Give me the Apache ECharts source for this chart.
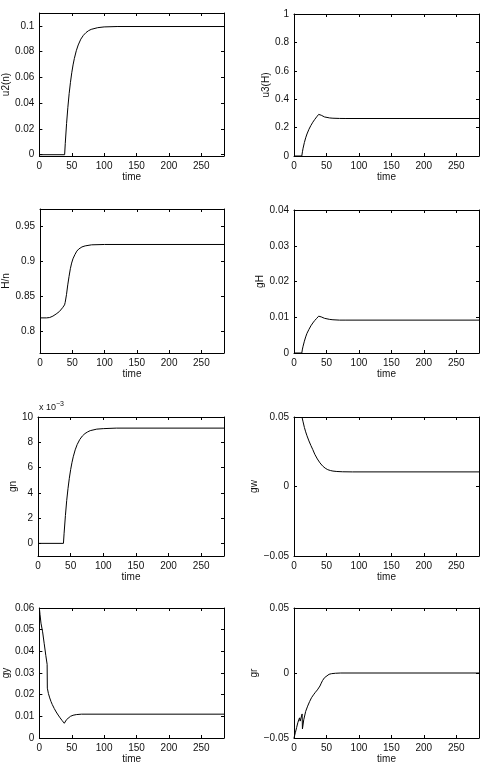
<!DOCTYPE html>
<html>
<head>
<meta charset="utf-8">
<script src="https://cdn.jsdelivr.net/npm/echarts@6/dist/echarts.min.js"></script>
<style>
html,body{margin:0;padding:0;background:#fff;}
#c{width:484px;height:765px;}
</style>
</head>
<body>
<div id="c"></div>
<script>
// ---------- data ----------
var xTicks = [0, 50, 100, 150, 200, 250];
var tMax = 285;

var tU2n = [0, 39, 40, 42, 44, 46, 48, 50, 52, 54, 57, 60, 64, 68, 72, 76, 80, 90, 100, 120, 285];
var vU2n = [0, 0, 0.0088, 0.0242, 0.0368, 0.0475, 0.0562, 0.0636, 0.0697, 0.0747, 0.0807, 0.0852, 0.0897, 0.0927, 0.0948, 0.0963, 0.0973, 0.0986, 0.0992, 0.0995, 0.0995];

var tU3H = [0, 12, 13, 14, 16, 18, 20, 23, 26, 29, 32, 35, 38, 39, 40, 42, 44, 47, 50, 55, 60, 70, 80, 285];
var vU3H = [0, 0, 0.03, 0.055, 0.095, 0.128, 0.155, 0.188, 0.215, 0.238, 0.258, 0.276, 0.293, 0.298, 0.295, 0.287, 0.281, 0.275, 0.271, 0.268, 0.266, 0.2645, 0.264, 0.264];

var tHn = [0, 10, 15, 20, 25, 30, 35, 38, 39, 41, 43, 45, 47, 49, 51, 54, 57, 60, 65, 70, 80, 100, 285];
var vHn = [0.819, 0.819, 0.8195, 0.8215, 0.8245, 0.828, 0.8335, 0.8375, 0.841, 0.852, 0.866, 0.878, 0.889, 0.897, 0.903, 0.909, 0.914, 0.917, 0.920, 0.9215, 0.923, 0.9235, 0.9235];

var tGH = [0, 12, 13, 14, 16, 18, 20, 23, 26, 29, 32, 35, 38, 39, 40, 42, 44, 47, 50, 55, 60, 70, 80, 285];
var vGH = [0, 0, 0.0011, 0.0019, 0.0033, 0.0045, 0.0055, 0.0066, 0.0076, 0.0084, 0.0091, 0.0097, 0.0103, 0.0105, 0.0104, 0.0101, 0.0099, 0.0097, 0.0095, 0.0094, 0.0093, 0.0092, 0.0092, 0.0092];

var tGn = [0, 39, 40, 42, 44, 46, 48, 50, 52, 54, 57, 60, 64, 68, 72, 76, 80, 90, 100, 120, 285];
var vGn = [0, 0, 0.0008, 0.0022, 0.0034, 0.00435, 0.00515, 0.00583, 0.00638, 0.00685, 0.0074, 0.00782, 0.00822, 0.0085, 0.00869, 0.00882, 0.00892, 0.00904, 0.00908, 0.00912, 0.00912];

var tGw = [12.3, 14, 16, 18, 20, 23, 26, 29, 32, 36, 40, 44, 48, 52, 56, 60, 66, 75, 90, 285];
var vGw = [0.05, 0.0465, 0.0425, 0.0393, 0.0365, 0.0328, 0.0295, 0.0265, 0.0232, 0.0198, 0.0170, 0.0148, 0.0132, 0.0121, 0.0115, 0.0111, 0.0108, 0.0106, 0.0105, 0.0105];

var tGy = [0, 1, 2.5, 5, 7.5, 10, 12, 12.3, 14, 16, 18, 20, 23, 26, 29, 32, 35, 38.5, 40, 42, 45, 48, 52, 57, 65, 285];
var vGy = [0.060, 0.057, 0.053, 0.049, 0.0435, 0.038, 0.034, 0.023, 0.0205, 0.0185, 0.0168, 0.0154, 0.0136, 0.0120, 0.0106, 0.0093, 0.0081, 0.0068, 0.0076, 0.0085, 0.0094, 0.0100, 0.0105, 0.0108, 0.0110, 0.0110];

var tGr = [0, 2, 4, 6, 8.5, 9.5, 12.5, 13, 15, 18, 21, 24, 27, 30, 33, 36, 38.5, 40, 42, 44, 47, 50, 54, 58, 64, 72, 285];
var vGr = [-0.050, -0.046, -0.042, -0.038, -0.0345, -0.037, -0.0315, -0.043, -0.036, -0.0295, -0.0255, -0.022, -0.019, -0.0168, -0.0148, -0.0130, -0.0115, -0.0100, -0.0078, -0.0058, -0.0036, -0.0021, -0.0010, -0.0005, -0.0002, 0, 0];

// y tick labels per panel
var yTicksU2n = [0, 0.02, 0.04, 0.06, 0.08, 0.1];
var yTicksU3H = [0, 0.2, 0.4, 0.6, 0.8, 1];
var yTicksHn = [0.8, 0.85, 0.9, 0.95];
var yTicksGH = [0, 0.01, 0.02, 0.03, 0.04];
var yTicksGn = [0, 0.002, 0.004, 0.006, 0.008, 0.01];
var yTicksGw = [-0.05, 0, 0.05];
var yTicksGy = [0, 0.01, 0.02, 0.03, 0.04, 0.05, 0.06];
var yTicksGr = [-0.05, 0, 0.05];

// ---------- layout ----------
var FONT = 'Liberation Sans, Arial, Helvetica, sans-serif';
var panels = [
  {name:'u2(n)', t:tU2n, v:vU2n, ticks:yTicksU2n, min:-0.001, max:0.11, left:38, top:13, width:186, height:143, gap:27},
  {name:'u3(H)', t:tU3H, v:vU3H, ticks:yTicksU3H, min:0, max:1, left:294, top:14, width:185, height:142, gap:23},
  {name:'H/n', t:tHn, v:vHn, ticks:yTicksHn, min:0.769, max:0.974, left:38, top:209, width:186, height:144, gap:29},
  {name:'gH', t:tGH, v:vGH, ticks:yTicksGH, min:0, max:0.04, left:294, top:210, width:185, height:143, gap:29},
  {name:'gn', t:tGn, v:vGn, ticks:yTicksGn, min:-0.001, max:0.01, left:38, top:417, width:186, height:139, gap:20, milli:true},
  {name:'gw', t:tGw, v:vGw, ticks:yTicksGw, min:-0.05, max:0.05, left:294, top:417, width:185, height:139, gap:35},
  {name:'gy', t:tGy, v:vGy, ticks:yTicksGy, min:0, max:0.06, left:38, top:608, width:186, height:140, gap:25},
  {name:'gr', t:tGr, v:vGr, ticks:yTicksGr, min:-0.05, max:0.05, left:294, top:608, width:185, height:140, gap:35}
];

function fmtY(milli) {
  return function (v) {
    if (milli) return String(Math.round(v * 1000));
    var s = String(+(+v).toFixed(4));
    return s.replace('-', '\u2212');
  };
}

var grids = [], xAxes = [], yAxes = [], series = [];
var lineStyle = {color:'#000', width:1};
var textStyle = {fontFamily:FONT, fontSize:10, color:'#111'};

panels.forEach(function (p, i) {
  grids.push({left:p.left, top:p.top, width:p.width, height:p.height, containLabel:false});
  xAxes.push({
    gridIndex:i, type:'value', min:0, max:tMax, interval:50, position:'bottom',
    name:'time', nameLocation:'middle', nameGap:16, nameTextStyle:textStyle,
    axisLine:{show:true, onZero:false, lineStyle:lineStyle},
    axisTick:{show:true, inside:true, length:3, lineStyle:lineStyle, customValues:xTicks},
    axisLabel:Object.assign({show:true, margin:5, customValues:xTicks}, textStyle),
    splitLine:{show:false}
  });
  xAxes.push({
    gridIndex:i, type:'value', min:0, max:tMax, interval:50, position:'top',
    axisLine:{show:true, onZero:false, lineStyle:lineStyle},
    axisTick:{show:true, inside:true, length:3, lineStyle:lineStyle, customValues:xTicks},
    axisLabel:{show:false}, splitLine:{show:false}
  });
  yAxes.push({
    gridIndex:i, type:'value', min:p.min, max:p.max, position:'left',
    name:p.name, nameLocation:'middle', nameGap:p.gap, nameRotate:90, nameTextStyle:textStyle,
    axisLine:{show:true, onZero:false, lineStyle:lineStyle},
    axisTick:{show:true, inside:true, length:3, lineStyle:lineStyle, customValues:p.ticks},
    axisLabel:Object.assign({show:true, margin:5, customValues:p.ticks, formatter:fmtY(p.milli)}, textStyle),
    splitLine:{show:false}
  });
  yAxes.push({
    gridIndex:i, type:'value', min:p.min, max:p.max, position:'right',
    axisLine:{show:true, onZero:false, lineStyle:lineStyle},
    axisTick:{show:true, inside:true, length:3, lineStyle:lineStyle, customValues:p.ticks},
    axisLabel:{show:false}, splitLine:{show:false}
  });
  var data = p.t.map(function (t, k) { return [t, p.v[k]]; });
  series.push({
    type:'line', xAxisIndex:2 * i, yAxisIndex:2 * i, data:data,
    showSymbol:false, symbol:'none', smooth:false, clip:true,
    lineStyle:{color:'#000', width:1}, silent:true
  });
});

var chart = echarts.init(document.getElementById('c'), null, {renderer:'canvas'});
chart.setOption({
  animation:false,
  backgroundColor:'#fff',
  grid:grids, xAxis:xAxes, yAxis:yAxes, series:series,
  graphic:[{
    type:'text', left:39, top:401,
    style:{
      text:'x 10{sup|\u22123}',
      font:'9px ' + FONT, fill:'#111',
      rich:{sup:{fontSize:7, fontFamily:FONT, fill:'#111', verticalAlign:'top', padding:[0,0,6,0]}}
    }
  }]
});
</script>
</body>
</html>
